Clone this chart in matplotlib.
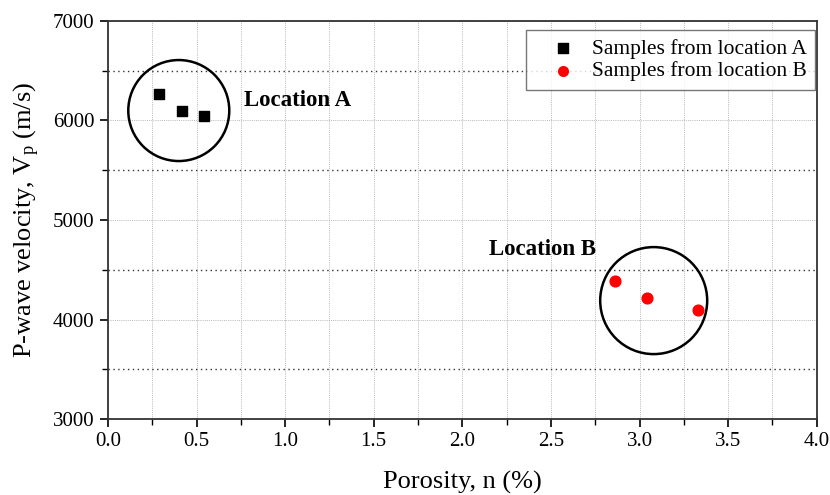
import numpy as np
import matplotlib.pyplot as plt
from matplotlib.ticker import MultipleLocator

plt.rcParams['font.family'] = ['Liberation Serif', 'DejaVu Serif']
plt.rcParams['mathtext.fontset'] = 'custom'
plt.rcParams['mathtext.rm'] = 'Liberation Serif'
plt.rcParams['mathtext.it'] = 'Liberation Serif:italic'

# porosity (%) and P-wave velocity (m/s) per sample
por_a = [0.29, 0.42, 0.54]
vp_a = [6265, 6095, 6045]
por_b = [2.86, 3.04, 3.33]
vp_b = [4390, 4215, 4095]

# group outlines: centre (porosity, velocity) and label
groups = [(0.40, 6100), (3.08, 4190)]
group_labels = ['Location A', 'Location B']
label_pos = [(0.77, 6200), (2.15, 4700)]

fig = plt.figure(figsize=(8.3, 4.95), dpi=100)
ax = fig.add_axes([0.130, 0.1535, 0.854, 0.8041])

ax.set_xlim(0, 4.0)
ax.set_ylim(3000, 7000)
ax.xaxis.set_major_locator(MultipleLocator(0.5))
ax.xaxis.set_minor_locator(MultipleLocator(0.25))
ax.yaxis.set_major_locator(MultipleLocator(1000))
ax.yaxis.set_minor_locator(MultipleLocator(500))
ax.xaxis.set_major_formatter(plt.FormatStrFormatter('%.1f'))

ax.grid(True, which='both', axis='x', color='#b8b8b8', linestyle=(0, (1, 1.2)), linewidth=0.7)
ax.grid(True, which='major', axis='y', color='#b8b8b8', linestyle=(0, (1, 1.2)), linewidth=0.7)
ax.grid(True, which='minor', axis='y', color='#333333', linestyle=(0, (1, 2.5)), linewidth=1.0)
ax.set_axisbelow(True)

ax.tick_params(which='major', direction='out', length=6, width=1.2, labelsize=15,
               top=False, right=False)
ax.tick_params(which='minor', direction='out', length=4, width=1.0, top=False, right=False)
for s in ax.spines.values():
    s.set_linewidth(1.3)
    s.set_color('#333333')

ax.scatter(por_a, vp_a, marker='s', s=55, color='black', zorder=3,
           label='Samples from location A')
ax.scatter(por_b, vp_b, marker='o', s=60, color='#ff0000', zorder=3,
           label='Samples from location B')

sizes = [101, 107]
for (cx, cy), d, txt, (tx, ty) in zip(groups, sizes, group_labels, label_pos):
    ax.scatter([cx], [cy], marker='o', s=(d * 0.72) ** 2, facecolors='none',
               edgecolors='black', linewidths=1.8, zorder=2)
    ax.text(tx, ty, txt, fontsize=16.5, fontweight='bold', va='center', ha='left')

ax.set_xlabel('Porosity, n (%)', fontsize=19, labelpad=14)
ax.set_ylabel('P-wave velocity, V$_\\mathregular{p}$ (m/s)', fontsize=19, labelpad=8)

leg = ax.legend(loc='upper right', bbox_to_anchor=(0.998, 0.977), borderaxespad=0,
                fontsize=15.5, frameon=True, fancybox=False,
                handletextpad=0.05, labelspacing=0.12,
                borderpad=0.4, markerscale=0.9, handlelength=2.6)
leg.get_frame().set_edgecolor('#555555')
leg.get_frame().set_linewidth(1.0)

fig.savefig('out.png', dpi=100)
